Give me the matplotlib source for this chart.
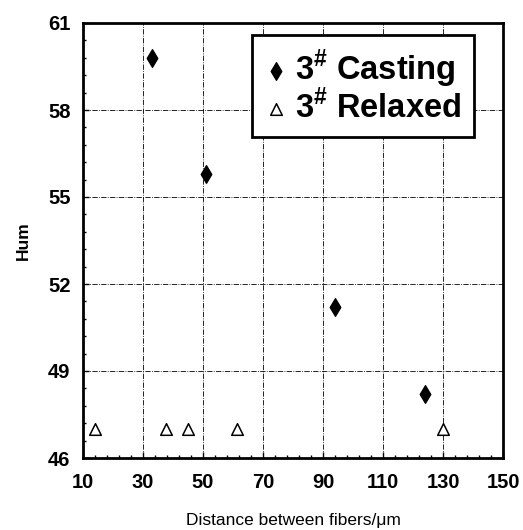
import matplotlib
matplotlib.use("Agg")
import matplotlib.pyplot as plt
from matplotlib.ticker import AutoMinorLocator

plt.rcParams['font.family'] = ['Liberation Sans', 'DejaVu Sans']
plt.rcParams['mathtext.fontset'] = 'custom'
plt.rcParams['mathtext.rm'] = 'Liberation Sans'
plt.rcParams['mathtext.bf'] = 'Liberation Sans:bold'

# data
casting_x = [33, 51, 94, 124]
casting_y = [59.8, 55.8, 51.2, 48.2]
relaxed_x = [14, 37.7, 45, 61.3, 130]
relaxed_y = [47, 47, 47, 47, 47]
xticks = [10, 30, 50, 70, 90, 110, 130, 150]
yticks = [46, 49, 52, 55, 58, 61]

fig = plt.figure(figsize=(5.23, 5.30), dpi=100)
ax = fig.add_axes([83 / 523, 1 - 458 / 530, 420 / 523, 435 / 530])

ax.scatter(casting_x, casting_y, marker='d', s=80, color='black', zorder=3,
           label=r'3$^{\mathbf{\#}}$ Casting')
ax.scatter(relaxed_x, relaxed_y, marker='^', s=70, facecolor='white',
           edgecolor='black', linewidth=1.1, zorder=3, label=r'3$^{\mathbf{\#}}$ Relaxed')

ax.set_xlim(10, 150)
ax.set_ylim(46, 61)
ax.set_xticks(xticks)
ax.set_yticks(yticks)
ax.xaxis.set_minor_locator(AutoMinorLocator(5))
ax.yaxis.set_minor_locator(AutoMinorLocator(5))
ax.tick_params(which='both', direction='in', top=False, right=False)
ax.tick_params(which='major', length=4, width=1)
ax.tick_params(which='minor', length=2.5, width=1)
for lab in ax.get_xticklabels() + ax.get_yticklabels():
    lab.set_fontweight('bold')
    lab.set_fontsize(14.5)
ax.tick_params(axis='x', pad=11)
ax.tick_params(axis='y', pad=9)

ax.grid(True, which='major', color='black', linestyle='-.', linewidth=0.6)
for s in ax.spines.values():
    s.set_linewidth(2)

ax.set_xlabel('Distance between fibers/\u03bcm', fontsize=12.5, labelpad=15)
ax.set_ylabel('Hum', fontsize=12.5, fontweight='bold', labelpad=12)

leg = ax.legend(loc='upper right', bbox_to_anchor=(0.931, 0.972),
                prop={'size': 23.5, 'weight': 'bold'},
                frameon=True, fancybox=False, edgecolor='black', framealpha=1,
                handletextpad=0.25, borderpad=0.38, handlelength=0.7,
                labelspacing=0.0, borderaxespad=0)
leg.get_frame().set_linewidth(2)

fig.savefig('out.png', dpi=100)
